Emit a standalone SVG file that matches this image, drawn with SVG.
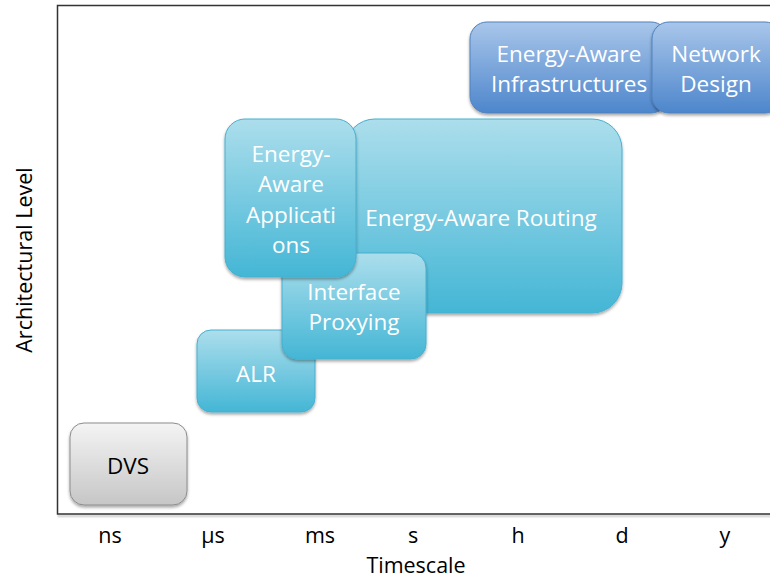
<svg xmlns="http://www.w3.org/2000/svg" width="770" height="581" viewBox="0 0 770 581">
<defs>
<linearGradient id="gBlue" x1="0" y1="0" x2="0" y2="1">
<stop offset="0" stop-color="#a9c6ea"/>
<stop offset="1" stop-color="#4d86cc"/>
</linearGradient>
<linearGradient id="gTeal" x1="0" y1="0" x2="0" y2="1">
<stop offset="0" stop-color="#acdeec"/>
<stop offset="1" stop-color="#44b6d5"/>
</linearGradient>
<linearGradient id="gGray" x1="0" y1="0" x2="0" y2="1">
<stop offset="0" stop-color="#f4f4f4"/>
<stop offset="1" stop-color="#c6c6c6"/>
</linearGradient>
<filter id="sh" x="-10%" y="-10%" width="120%" height="130%">
<feDropShadow dx="0" dy="2" stdDeviation="1.5" flood-color="#000" flood-opacity="0.35"/>
</filter>
</defs>
<style>
.blue{fill:url(#gBlue);stroke:#4f81bd;stroke-width:1;filter:url(#sh)}
.teal{fill:url(#gTeal);stroke:#46b0cf;stroke-width:1;filter:url(#sh)}
.gray{fill:url(#gGray);stroke:#8c8c8c;stroke-width:1;filter:url(#sh)}
.wt{font-family:"Open Sans","Liberation Sans",sans-serif;font-size:22.5px;fill:#ffffff;text-anchor:middle}
.bt{font-family:"Open Sans","Liberation Sans",sans-serif;font-size:22.5px;fill:#000000;text-anchor:middle}
.ax{font-family:"Open Sans","Liberation Sans",sans-serif;font-size:21.5px;fill:#000000;text-anchor:middle}
</style>
<rect width="770" height="581" fill="#ffffff"/>
<g id="frame">
<path d="M57.5,516 L770,516" stroke="#dddddd" stroke-width="3" fill="none"/>
<path d="M770,5.5 L57.5,5.5 L57.5,514 L770,514" stroke="#333333" stroke-width="1.5" fill="none"/>
</g>
<g id="connectors"></g>
<g id="node-infra">
<rect class="blue" x="470" y="22" width="198" height="91" rx="17"/>
<text class="wt" x="569" y="62">Energy-Aware</text>
<text class="wt" x="569" y="92">Infrastructures</text>
</g>
<g id="node-network">
<rect class="blue" x="652" y="22" width="130" height="91" rx="17"/>
<text class="wt" x="716" y="62">Network</text>
<text class="wt" x="716" y="92">Design</text>
</g>
<g id="node-alr">
<rect class="teal" x="197" y="330" width="118" height="82" rx="14"/>
<text class="wt" x="256" y="382">ALR</text>
</g>
<g id="node-routing">
<rect class="teal" x="345" y="119" width="277" height="194" rx="30"/>
<text class="wt" x="481" y="226">Energy-Aware Routing</text>
</g>
<g id="node-proxying">
<rect class="teal" x="282" y="253" width="144" height="106" rx="15"/>
<text class="wt" x="354" y="300">Interface</text>
<text class="wt" x="354" y="330">Proxying</text>
</g>
<g id="node-apps">
<rect class="teal" x="225" y="119" width="131" height="158" rx="20"/>
<text class="wt" x="291" y="162">Energy-</text>
<text class="wt" x="291" y="192">Aware</text>
<text class="wt" x="291" y="223">Applicati</text>
<text class="wt" x="291" y="253">ons</text>
</g>
<g id="node-dvs">
<rect class="gray" x="70" y="423" width="117" height="82" rx="14"/>
<text class="bt" x="128" y="474">DVS</text>
</g>
<g id="axes">
<text class="ax" x="110" y="543">ns</text>
<text class="ax" x="213" y="543">µs</text>
<text class="ax" x="320" y="543">ms</text>
<text class="ax" x="413" y="543">s</text>
<text class="ax" x="518" y="543">h</text>
<text class="ax" x="622" y="543">d</text>
<text class="ax" x="725" y="543">y</text>
<text class="ax" x="416" y="573">Timescale</text>
<text class="ax" transform="translate(32,260) rotate(-90)">Architectural Level</text>
</g>
</svg>
